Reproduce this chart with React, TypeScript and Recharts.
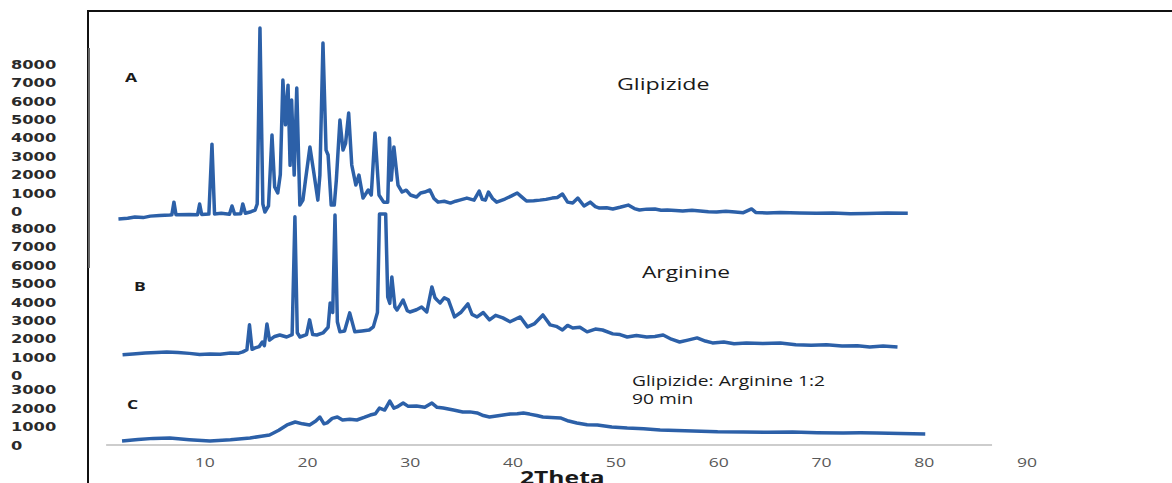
import React from "react";
import { LineChart, Line, XAxis, YAxis, ReferenceLine } from "recharts";

// 2θ positions and intensities (counts)
const aTheta = [1.6, 2.5, 3.2, 4.0, 4.7, 5.6, 6.6, 6.8, 7.0, 7.2, 8.5, 9.3, 9.5, 9.7, 10.4, 10.7, 10.95, 11.6, 12.4, 12.65, 12.9, 13.5, 13.7, 13.95, 14.5, 14.9, 15.1, 15.37, 15.65, 15.85, 16.2, 16.54, 16.8, 17.1, 17.35, 17.6, 17.85, 18.1, 18.3, 18.45, 18.7, 18.95, 19.25, 19.55, 19.8, 20.23, 20.6, 21.0, 21.2, 21.5, 21.8, 22.0, 22.3, 22.6, 22.8, 23.15, 23.45, 23.7, 24.0, 24.3, 24.7, 25.0, 25.4, 25.9, 26.2, 26.56, 26.95, 27.4, 27.8, 27.97, 28.15, 28.4, 28.8, 29.2, 29.6, 30.0, 30.6, 31.0, 31.4, 31.9, 32.3, 32.7, 33.3, 33.9, 34.4, 34.8, 35.5, 36.2, 36.7, 37.0, 37.3, 37.6, 38.0, 38.4, 39.2, 39.8, 40.4, 40.8, 41.3, 42.0, 42.6, 43.2, 43.8, 44.3, 44.8, 45.3, 45.8, 46.3, 46.9, 47.5, 48.0, 48.4, 49.1, 49.7, 50.4, 51.2, 51.8, 52.3, 53.0, 53.8, 54.4, 55.0, 55.8, 56.5, 57.4, 58.2, 59.0, 59.8, 60.7, 61.6, 62.4, 63.2, 63.6, 64.7, 66.0, 67.9, 69.5, 71.1, 72.8, 74.4, 76.4, 78.4];
const aCounts = [80, 120, 190, 160, 240, 270, 300, 320, 1000, 310, 330, 320, 900, 330, 350, 4150, 360, 400, 340, 790, 360, 370, 900, 400, 480, 570, 900, 10460, 900, 460, 800, 4650, 1820, 1500, 2500, 7640, 5200, 7360, 3000, 6550, 2470, 7200, 840, 1110, 2200, 4000, 2640, 1110, 2470, 9650, 3830, 3560, 840, 840, 2200, 5460, 3830, 4200, 5840, 3020, 1930, 2470, 1220, 1660, 1390, 4760, 1390, 1000, 1000, 4480, 2200, 4000, 1930, 1550, 1650, 1390, 1280, 1500, 1550, 1660, 1200, 1000, 1050, 950, 1050, 1110, 1220, 1110, 1600, 1150, 1110, 1550, 1200, 1000, 1170, 1330, 1500, 1300, 1060, 1080, 1110, 1150, 1220, 1250, 1440, 1000, 950, 1220, 790, 1000, 760, 680, 700, 630, 720, 840, 650, 570, 620, 630, 560, 570, 540, 520, 560, 520, 480, 460, 500, 460, 430, 630, 440, 410, 440, 410, 390, 410, 370, 380, 410, 400];

const bTheta = [2.0, 3.0, 4.2, 5.3, 6.3, 7.4, 8.5, 9.5, 10.5, 11.5, 12.5, 13.3, 13.7, 14.1, 14.35, 14.6, 14.9, 15.3, 15.6, 15.8, 16.05, 16.3, 16.8, 17.3, 17.97, 18.5, 18.77, 19.0, 19.26, 19.9, 20.2, 20.5, 20.9, 21.5, 22.0, 22.2, 22.45, 22.67, 22.9, 23.15, 23.6, 24.1, 24.6, 25.3, 26.0, 26.4, 26.8, 27.0, 27.6, 27.8, 28.0, 28.2, 28.5, 28.7, 29.0, 29.3, 29.7, 29.96, 30.6, 31.1, 31.6, 32.1, 32.4, 32.6, 32.9, 33.3, 33.7, 34.3, 34.9, 35.6, 36.0, 36.5, 37.1, 37.7, 38.3, 39.0, 39.7, 40.7, 41.4, 42.1, 42.9, 43.6, 44.2, 44.8, 45.3, 45.8, 46.5, 47.2, 48.0, 48.7, 49.7, 50.4, 51.1, 52.0, 53.0, 53.8, 54.6, 55.4, 56.2, 57.0, 57.9, 58.7, 59.4, 60.5, 61.5, 62.7, 64.3, 66.0, 67.5, 69.0, 70.5, 72.0, 73.5, 74.7, 76.0, 77.4];
const bCounts = [1200, 1250, 1300, 1330, 1360, 1330, 1280, 1220, 1250, 1230, 1300, 1290, 1360, 1480, 2830, 1500, 1580, 1650, 1900, 1700, 2880, 2000, 2200, 2280, 2170, 2300, 8700, 2400, 2170, 2300, 3100, 2300, 2280, 2390, 2700, 4020, 3500, 8800, 3000, 2450, 2500, 3480, 2450, 2500, 2550, 2720, 3500, 8860, 8860, 4350, 4000, 5430, 3800, 3640, 3900, 4180, 3600, 3530, 3650, 3800, 3530, 4890, 4300, 4180, 4020, 4300, 4185, 3260, 3500, 3970, 3400, 3260, 3500, 3100, 3350, 3210, 3000, 3260, 2720, 2900, 3370, 2830, 2750, 2550, 2800, 2660, 2700, 2450, 2600, 2550, 2340, 2300, 2170, 2250, 2170, 2200, 2280, 2050, 1900, 2000, 2120, 1950, 1850, 1900, 1800, 1850, 1820, 1850, 1750, 1720, 1750, 1680, 1700, 1630, 1680, 1630];

const cTheta = [1.95, 3.5, 5.0, 6.6, 8.5, 10.5, 12.5, 14.4, 15.5, 16.3, 17.2, 18.0, 18.8, 19.5, 20.2, 20.8, 21.2, 21.6, 21.9, 22.4, 22.9, 23.4, 24.1, 24.8, 25.5, 26.1, 26.6, 27.0, 27.5, 28.0, 28.4, 28.7, 29.3, 29.8, 30.6, 31.4, 32.1, 32.6, 33.2, 34.2, 35.1, 35.8, 36.5, 37.1, 37.7, 38.7, 39.7, 40.4, 41.0, 41.6, 42.3, 42.9, 43.7, 44.6, 45.4, 46.2, 47.2, 48.2, 49.6, 51.1, 52.7, 54.3, 55.9, 57.5, 59.9, 62.4, 64.8, 67.2, 69.6, 72.1, 73.8, 75.4, 77.7, 80.1];
const cCounts = [220, 300, 360, 380, 290, 220, 280, 380, 480, 540, 800, 1090, 1250, 1150, 1090, 1300, 1520, 1150, 1200, 1450, 1520, 1360, 1400, 1360, 1500, 1630, 1700, 2010, 1900, 2390, 2000, 2070, 2280, 2100, 2120, 2050, 2280, 2050, 2010, 1900, 1790, 1800, 1740, 1600, 1520, 1600, 1680, 1700, 1740, 1680, 1600, 1520, 1500, 1470, 1300, 1200, 1100, 1090, 980, 920, 880, 820, 790, 760, 720, 710, 690, 700, 670, 650, 660, 650, 620, 600];

// vertical stacking offsets of the three patterns
const offsetA = 12200;
const offsetB = 3700;
const offsetC = 0;

// y-axis label groups (each pattern has its own 0.. scale)
const labelsA = [0, 1000, 2000, 3000, 4000, 5000, 6000, 7000, 8000];
const labelsB = [0, 1000, 2000, 3000, 4000, 5000, 6000, 7000, 8000];
const labelsC = [0, 1000, 2000, 3000];
const labelBaseA = 12700;
const labelBaseB = 3780;
const labelBaseC = 0;

const xTicks = [10, 20, 30, 40, 50, 60, 70, 80, 90];

const build = (th: number[], ct: number[], off: number) =>
  th.map((x, i) => ({ x, y: ct[i] + off }));

const seriesA = build(aTheta, aCounts, offsetA);
const seriesB = build(bTheta, bCounts, offsetB);
const seriesC = build(cTheta, cCounts, offsetC);

const yLabelMap = new Map<number, string>();
labelsC.forEach((v) => yLabelMap.set(labelBaseC + v, String(v)));
labelsB.forEach((v) => yLabelMap.set(labelBaseB + v, String(v)));
labelsA.forEach((v) => yLabelMap.set(labelBaseA + v, String(v)));
const yTicks = Array.from(yLabelMap.keys()).sort((a, b) => a - b);

const BLUE = "#2c60a8";

const YTick = (props: any) => {
  const { y, payload } = props;
  return (
    <g transform={`translate(11,${y})`}>
      <text
        transform="scale(1.25,1)"
        x={0}
        y={0}
        dy="0.36em"
        textAnchor="start"
        fontFamily="DejaVu Sans"
        fontWeight={700}
        fontSize={13}
        fill="#2a2a2a"
      >
        {yLabelMap.get(payload.value)}
      </text>
    </g>
  );
};

const XTick = (props: any) => {
  const { x, y, payload } = props;
  return (
    <g transform={`translate(${x},${y})`}>
      <text
        transform="scale(1.35,1)"
        x={0}
        y={0}
        dy="0.71em"
        textAnchor="middle"
        fontFamily="Open Sans"
        fontSize={13}
        fill="#595959"
      >
        {payload.value}
      </text>
    </g>
  );
};

const Note = ({ left, top, children, size = 16, bold = false, scale = 1.4 }: any) => (
  <div
    style={{
      position: "absolute",
      left,
      top,
      fontFamily: "Open Sans",
      fontSize: size,
      fontWeight: bold ? 700 : 400,
      color: "#1a1a1a",
      whiteSpace: "nowrap",
      lineHeight: 1,
      transform: `scaleX(${scale})`,
      transformOrigin: "left top",
    }}
  >
    {children}
  </div>
);

export default function App() {
  return (
    <div
      style={{
        position: "absolute",
        left: 0,
        top: 0,
        width: 1172,
        height: 483,
        overflow: "hidden",
        background: "#fff",
      }}
    >
      {/* frame lines of the original figure */}
      <div style={{ position: "absolute", left: 87, top: 10, width: 1085, height: 1.5, background: "#111" }} />
      <div style={{ position: "absolute", left: 87, top: 10, width: 1.5, height: 473, background: "#111" }} />
      <div style={{ position: "absolute", left: 88, top: 48, width: 2, height: 220, background: "#666" }} />

      <div style={{ position: "absolute", left: 0, top: 0 }}>
        <LineChart width={1172} height={483} margin={{ top: 20, right: 145, bottom: 8, left: 0 }}>
          <XAxis
            dataKey="x"
            type="number"
            domain={[0, 90]}
            ticks={xTicks}
            interval={0}
            axisLine={false}
            tickLine={false}
            height={30}
            tickMargin={7}
            tick={<XTick />}
            allowDuplicatedCategory={false}
          />
          <YAxis
            type="number"
            domain={[0, 23100]}
            ticks={yTicks}
            interval={0}
            width={102}
            axisLine={false}
            tickLine={false}
            tick={<YTick />}
          />
          <ReferenceLine
            segment={[{ x: 0.4, y: 0 }, { x: 86.6, y: 0 }]}
            stroke="#bdbdbd"
            strokeWidth={1.5}
            ifOverflow="visible"
          />
          <Line data={seriesA} dataKey="y" type="linear" stroke={BLUE} strokeWidth={3.5} strokeLinejoin="round" dot={false} isAnimationActive={false} />
          <Line data={seriesB} dataKey="y" type="linear" stroke={BLUE} strokeWidth={3.5} strokeLinejoin="round" dot={false} isAnimationActive={false} />
          <Line data={seriesC} dataKey="y" type="linear" stroke={BLUE} strokeWidth={3.5} strokeLinejoin="round" dot={false} isAnimationActive={false} />
        </LineChart>
      </div>

      <Note left={125} top={71} size={13} bold scale={1.35}>A</Note>
      <Note left={134} top={280} size={13} bold scale={1.35}>B</Note>
      <Note left={127} top={398} size={13} bold scale={1.35}>C</Note>
      <Note left={617} top={76} size={16} scale={1.45}>Glipizide</Note>
      <Note left={642} top={264} size={16} scale={1.42}>Arginine</Note>
      <Note left={632} top={373} size={15} scale={1.28}>Glipizide: Arginine 1:2</Note>
      <Note left={632} top={391} size={15} scale={1.28}>90 min</Note>
      <Note left={520} top={469} size={17} bold scale={1.45}>2Theta</Note>
    </div>
  );
}
